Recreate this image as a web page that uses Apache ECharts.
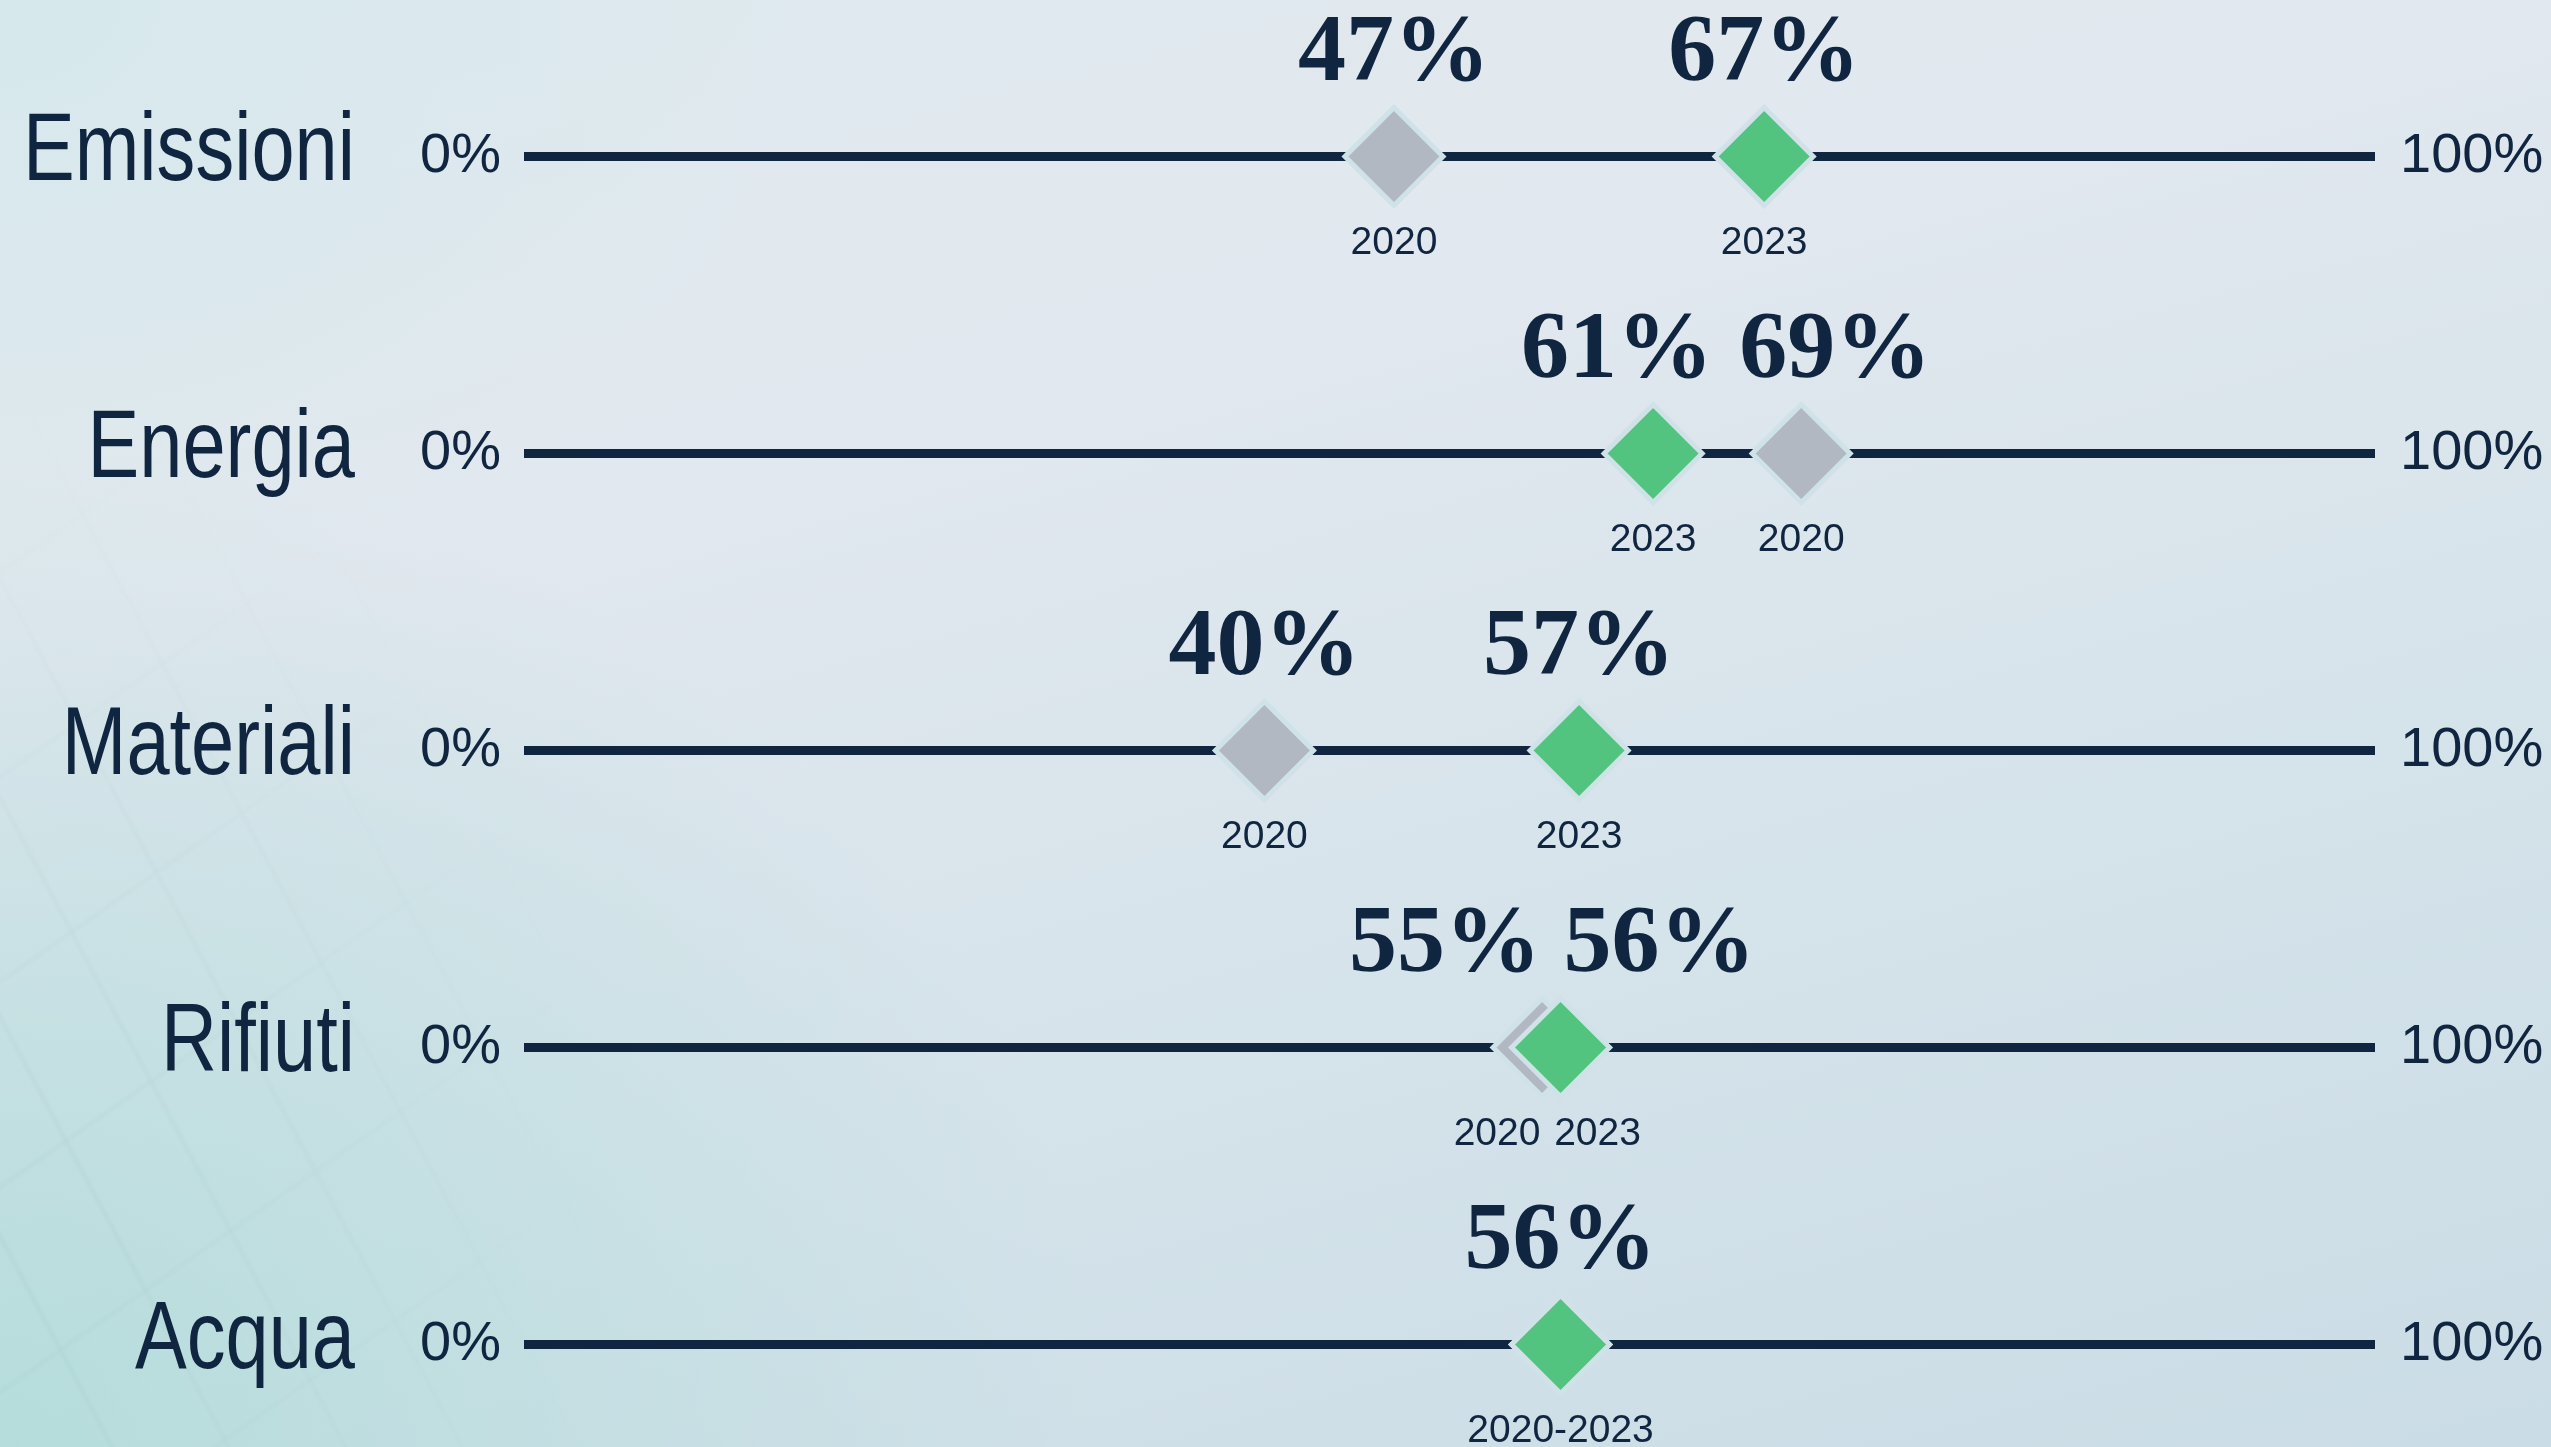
<!DOCTYPE html>
<html>
<head>
<meta charset="utf-8">
<title>Indicatori 2020-2023</title>
<script src="https://cdn.jsdelivr.net/npm/echarts@6/dist/echarts.min.js"></script>
<style>
  html, body {
    margin: 0;
    padding: 0;
    width: 2551px;
    height: 1447px;
    overflow: hidden;
  }
  body {
    position: relative;
    background:
      radial-gradient(ellipse 1100px 1000px at 0% 100%, rgba(176, 219, 217, 0.85), rgba(176, 219, 217, 0) 100%),
      radial-gradient(ellipse 800px 600px at 0% 0%, rgba(212, 232, 236, 0.7), rgba(212, 232, 236, 0) 100%),
      linear-gradient(165deg, #dde9ee 0%, #e2e8ef 30%, #d5e3ea 65%, #cadce6 100%);
  }
  .texture {
    position: absolute;
    left: 0;
    top: 0;
    width: 2551px;
    height: 1447px;
    background:
      repeating-linear-gradient(62deg, rgba(120, 160, 160, 0) 0px, rgba(120, 160, 160, 0) 95px, rgba(120, 160, 160, 0.08) 99px, rgba(120, 160, 160, 0) 103px),
      repeating-linear-gradient(-35deg, rgba(120, 160, 160, 0) 0px, rgba(120, 160, 160, 0) 160px, rgba(120, 160, 160, 0.06) 164px, rgba(120, 160, 160, 0) 168px);
    -webkit-mask-image: radial-gradient(ellipse 600px 850px at 0% 85%, #000 0%, rgba(0, 0, 0, 0) 100%);
    mask-image: radial-gradient(ellipse 600px 850px at 0% 85%, #000 0%, rgba(0, 0, 0, 0) 100%);
  }
  #main {
    position: absolute;
    left: 0;
    top: 0;
    width: 2551px;
    height: 1447px;
  }
</style>
</head>
<body>
<div class="texture"></div>
<div id="main"></div>
<script>
// dati
const categories = ['Emissioni', 'Energia', 'Materiali', 'Rifiuti', 'Acqua']
const values2020 = [47, 69, 40, 55, 56]
const values2023 = [67, 61, 57, 56, 56]
const trackMax = [100, 100, 100, 100, 100]
const endLabels = ['0%', '100%']
const years = ['2020', '2023']

// spostamenti delle etichette dove si sovrappongono (px)
const labelNudge = {
  Energia: { pct2020: 34, pct2023: -36, year2020: 0, year2023: 0 },
  Rifiuti: { pct2020: -97, pct2023: 99, year2020: -45, year2023: 37 }
}

const navy = '#10253f'
const grey = '#b2b8c1'
const green = '#52c47f'
const halo = '#cfe2e7'
const sans = "'Liberation Sans', Arial, sans-serif"

function nudge(cat, key) {
  return labelNudge[cat] ? labelNudge[cat][key] : 0
}

function markerData(values, key) {
  return values.map((v, i) => {
    const cat = categories[i]
    const same = values2020[i] === values2023[i]
    return {
      value: [v, cat],
      label: {
        show: !(same && key === '2020'),
        offset: [nudge(cat, 'pct' + key), -101]
      }
    }
  })
}

function yearData(values, key) {
  return values.map((v, i) => {
    const cat = categories[i]
    const same = values2020[i] === values2023[i]
    return {
      value: [v, cat],
      label: {
        show: !(same && key === '2020'),
        formatter: same ? years[0] + '-' + years[1] : key,
        offset: [nudge(cat, 'year' + key), 87]
      }
    }
  })
}

const pctLabel = {
  show: true,
  position: 'inside',
  formatter: (p) => p.value[0] + '%',
  fontFamily: "'Liberation Serif', 'DejaVu Serif', serif",
  fontWeight: 'bold',
  fontSize: 96,
  color: navy,
  verticalAlign: 'middle',
  align: 'center'
}

const yearLabel = {
  show: true,
  position: 'inside',
  fontFamily: sans,
  fontSize: 39,
  color: navy,
  verticalAlign: 'middle',
  align: 'center'
}

const catAxis = {
  type: 'category',
  data: categories,
  inverse: true,
  axisLine: { show: false },
  axisTick: { show: false },
  splitLine: { show: false }
}

// nomi delle categorie in carattere stretto (scala orizzontale)
function renderName(params, api) {
  const idx = api.value(1)
  const pt = api.coord([0, idx])
  return {
    type: 'text',
    x: pt[0] - 169,
    y: pt[1] - 3,
    scaleX: 0.8,
    style: {
      text: categories[idx],
      fontFamily: sans,
      fontSize: 97,
      fill: navy,
      align: 'right',
      verticalAlign: 'middle'
    }
  }
}

const chart = echarts.init(document.getElementById('main'))
chart.setOption({
  animation: false,
  backgroundColor: 'transparent',
  grid: {
    left: 524,
    width: 1851,
    top: 8,
    height: 1485,
    outerBoundsMode: 'none',
    containLabel: false
  },
  xAxis: {
    type: 'value',
    min: 0,
    max: 100,
    show: false
  },
  yAxis: [
    Object.assign({}, catAxis, {
      position: 'left',
      axisLabel: {
        margin: 23,
        formatter: () => endLabels[0],
        fontFamily: sans,
        fontSize: 56,
        color: navy,
        padding: [4, 0, 0, 0]
      }
    }),
    Object.assign({}, catAxis, {
      position: 'right',
      axisLabel: {
        margin: 25,
        formatter: () => endLabels[1],
        fontFamily: sans,
        fontSize: 56,
        color: navy,
        padding: [4, 0, 0, 0]
      }
    })
  ],
  series: [
    {
      name: 'categorie',
      type: 'custom',
      clip: false,
      silent: true,
      renderItem: renderName,
      data: categories.map((c) => [0, c])
    },
    {
      name: 'scala',
      type: 'bar',
      data: trackMax,
      barWidth: 9,
      silent: true,
      z: 1,
      itemStyle: { color: navy }
    },
    {
      name: years[0],
      type: 'scatter',
      symbol: 'diamond',
      symbolSize: 98,
      z: 3,
      itemStyle: { color: grey, borderColor: halo, borderWidth: 5, opacity: 1 },
      label: pctLabel,
      data: markerData(values2020, '2020')
    },
    {
      name: years[1],
      type: 'scatter',
      symbol: 'diamond',
      symbolSize: 98,
      z: 4,
      itemStyle: { color: green, borderColor: halo, borderWidth: 5, opacity: 1 },
      label: pctLabel,
      data: markerData(values2023, '2023')
    },
    {
      name: years[0] + ' anno',
      type: 'scatter',
      symbolSize: 0,
      silent: true,
      z: 5,
      itemStyle: { opacity: 1 },
      label: yearLabel,
      data: yearData(values2020, '2020')
    },
    {
      name: years[1] + ' anno',
      type: 'scatter',
      symbolSize: 0,
      silent: true,
      z: 5,
      itemStyle: { opacity: 1 },
      label: yearLabel,
      data: yearData(values2023, '2023')
    }
  ]
})
</script>
</body>
</html>
